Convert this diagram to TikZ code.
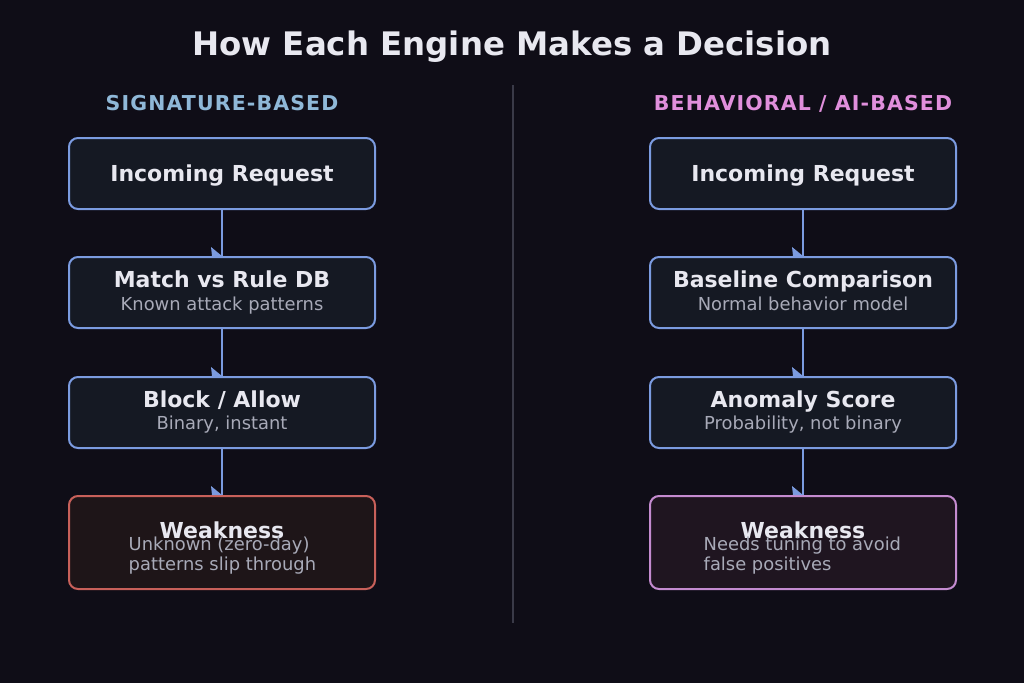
\documentclass[tikz,border=0pt]{standalone}
\usepackage{fontspec}
\setmainfont{DejaVu Sans}
\usetikzlibrary{calc}
\definecolor{bg}{HTML}{0F0D17}
\definecolor{boxfill}{HTML}{151923}
\definecolor{boxline}{HTML}{7B9BE0}
\definecolor{redfill}{HTML}{1E1518}
\definecolor{redline}{HTML}{C8605A}
\definecolor{pinkfill}{HTML}{1F1520}
\definecolor{pinkline}{HTML}{C48BD0}
\definecolor{titlecol}{HTML}{E8E8F0}
\definecolor{subcol}{HTML}{A8AAB8}
\definecolor{hdrleft}{HTML}{8FB8D8}
\definecolor{hdrright}{HTML}{E08FDC}
\definecolor{divcol}{HTML}{3A3A48}
\tikzset{
  stepbox/.style={draw=boxline, fill=boxfill, line width=2pt, rounded corners=9pt, minimum width=306pt, minimum height=71pt, inner sep=0pt},
  redbox/.style={stepbox, draw=redline, fill=redfill, minimum height=93pt},
  pinkbox/.style={stepbox, draw=pinkline, fill=pinkfill, minimum height=93pt},
  ttl/.style={text=titlecol, font=\fontsize{22}{26}\selectfont\bfseries, inner sep=0pt, anchor=base},
  sub/.style={text=subcol, font=\fontsize{17.9}{20}\selectfont, inner sep=0pt, anchor=base},
  subl/.style={sub, anchor=base west},
  hdr/.style={font=\fontsize{20.5}{24}\selectfont\bfseries\addfontfeature{LetterSpace=5.5}, inner sep=0pt, anchor=base},
  conn/.style={draw=boxline, line width=2.7pt},
  tip/.style={fill=boxline},
}
\begin{document}
\begin{tikzpicture}[x=1pt,y=-1pt]
\fill[bg] (0,0) rectangle (1024,683);
\useasboundingbox (0,0) rectangle (1024,683);
\node[text=titlecol, font=\fontsize{32.4}{38}\selectfont\bfseries, inner sep=0pt, anchor=base] (title) at (512,55) {How Each Engine Makes a Decision};
\node[hdr, text=hdrleft] (hl) at (222,110) {SIGNATURE-BASED};
\node[hdr, text=hdrright] (hr) at (803,110) {BEHAVIORAL / AI-BASED};
\coordinate (dtop) at (513,85);
\coordinate (dbot) at (513,623);
\draw[divcol, line width=1.5pt] (dtop) -- (dbot);
% left column
\node[stepbox] (l1) at (222,173.5) {};
\node[stepbox] (l2) at (222,292.5) {};
\node[stepbox] (l3) at (222,412.5) {};
\node[redbox] (l4) at (222,542.5) {};
\node[ttl] (l1t) at (222,181) {Incoming Request};
\node[ttl] (l2t) at (222,287.5) {Match vs Rule DB};
\node[sub] (l2s) at (222,310) {Known attack patterns};
\node[ttl] (l3t) at (222,407.5) {Block / Allow};
\node[sub] (l3s) at (222,429) {Binary, instant};
\node[ttl] (l4t) at (222,538) {Weakness};
\node[subl] (l4s) at (128.5,550) {Unknown (zero-day)};
\node[subl] (l4s2) at (128.5,570) {patterns slip through};
% right column
\node[stepbox] (r1) at (803,173.5) {};
\node[stepbox] (r2) at (803,292.5) {};
\node[stepbox] (r3) at (803,412.5) {};
\node[pinkbox] (r4) at (803,542.5) {};
\node[ttl] (r1t) at (803,181) {Incoming Request};
\node[ttl] (r2t) at (803,287.5) {Baseline Comparison};
\node[sub] (r2s) at (803,310) {Normal behavior model};
\node[ttl] (r3t) at (803,407.5) {Anomaly Score};
\node[sub] (r3s) at (803,429) {Probability, not binary};
\node[ttl] (r4t) at (803,538) {Weakness};
\node[subl] (r4s) at (703.5,550) {Needs tuning to avoid};
\node[subl] (r4s2) at (703.5,570) {false positives};
% connectors
\foreach \a/\b in {l1/l2,l2/l3,l3/l4,r1/r2,r2/r3,r3/r4}{
  \draw[conn] (\a.south) -- (\b.north);
  \fill[tip] ($(\b.north)+(-11,-9)$) -- ($(\b.north)+(0,0)$) -- ($(\b.north)+(-10,0)$) -- cycle;
}
\end{tikzpicture}
\end{document}
